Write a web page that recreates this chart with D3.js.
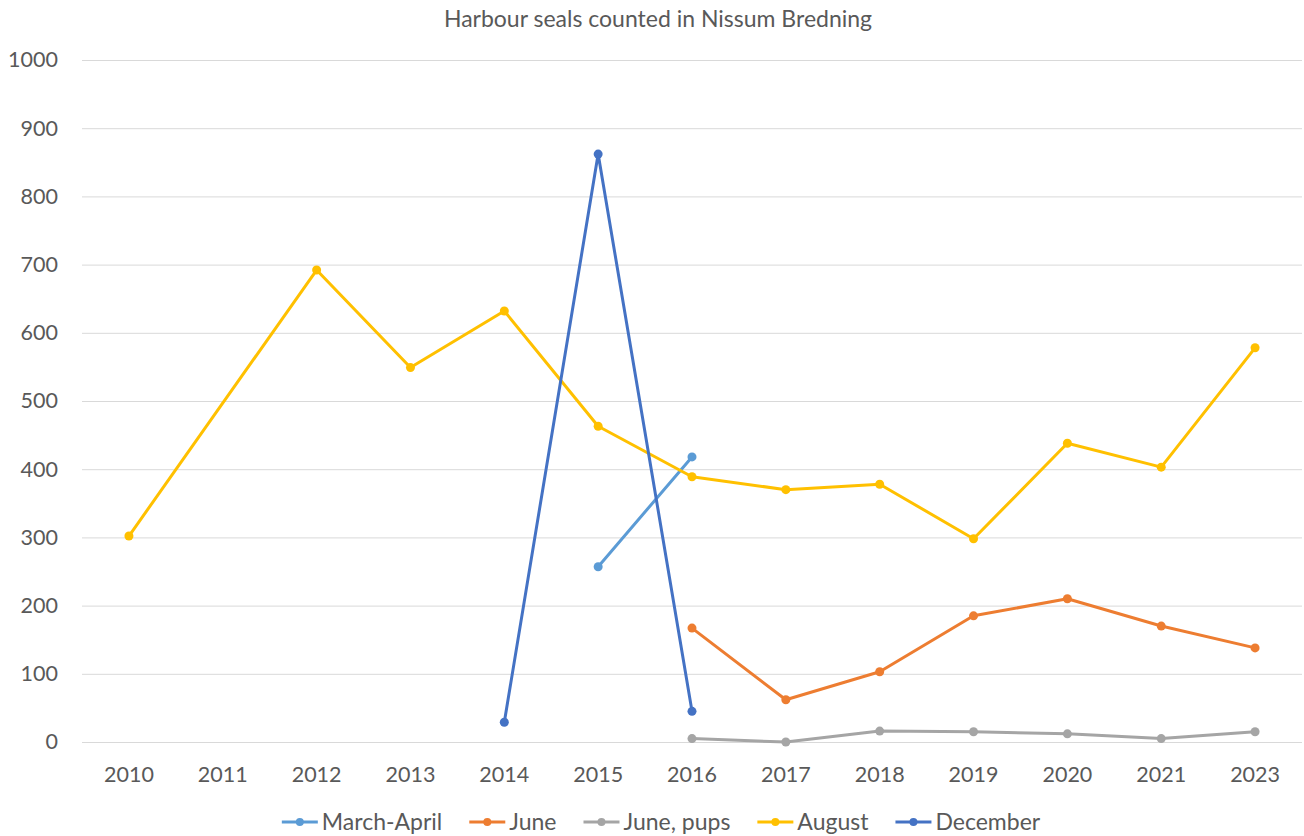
<!DOCTYPE html>
<html><head><meta charset="utf-8">
<script src="https://cdn.jsdelivr.net/npm/d3@7"></script>
<style>body{margin:0;background:#fff;} text{font-family:Lato, "Open Sans", sans-serif;}</style>
</head><body>
<svg id="c" width="1304" height="836"></svg>
<script>
const categories = ["2010","2011","2012","2013","2014","2015","2016","2017","2018","2019","2020","2021","2023"];
const marchApril = [null,null,null,null,null,257,418,null,null,null,null,null,null];
const june = [null,null,null,null,null,null,167,62,103,185,210,170,138];
const junePups = [null,null,null,null,null,null,5,0,16,15,12,5,15];
const august = [302,null,692,549,632,463,389,370,378,298,438,403,578];
const december = [null,null,null,null,29,862,45,null,null,null,null,null,null];
const yTicks = [0,100,200,300,400,500,600,700,800,900,1000];
const seriesNames = ["March-April","June","June, pups","August","December"];
const seriesColors = ["#5B9BD5","#ED7D31","#A5A5A5","#FFC000","#4472C4"];
const seriesData = [marchApril, june, junePups, august, december];

(function(){
const svg = d3.select("#c");
const mLeft = 82, mRight = 1302, mTop = 60, mBottom = 742;
const x = d3.scaleBand().domain(categories).range([mLeft, mRight]).padding(0);
const y = d3.scaleLinear().domain([0,1000]).range([mBottom, mTop]);
const cx = c => x(c) + x.bandwidth()/2;

svg.append("text").attr("x", 658).attr("y", 27).attr("text-anchor","middle")
  .attr("font-size", 23).attr("fill", "#595959").text("Harbour seals counted in Nissum Bredning");

const gy = svg.append("g").attr("transform", `translate(${mLeft},0)`)
  .call(d3.axisLeft(y).tickValues(yTicks).tickSize(-(mRight-mLeft)).tickPadding(24).tickFormat(d3.format("d")));
gy.select(".domain").remove();
gy.selectAll(".tick line").attr("stroke", "#D9D9D9").attr("stroke-width", 1);
gy.selectAll(".tick text").attr("font-size", 21.5).attr("fill", "#595959").attr("font-family","Lato, 'Open Sans', sans-serif");

const gx = svg.append("g").attr("transform", `translate(0,${mBottom})`)
  .call(d3.axisBottom(x).tickSize(0).tickPadding(25));
gx.select(".domain").remove();
gx.selectAll(".tick text").attr("font-size", 21.5).attr("fill", "#595959").attr("font-family","Lato, 'Open Sans', sans-serif");

const line = d3.line().x(d => cx(d.c)).y(d => y(d.v));
seriesData.forEach((arr, i) => {
  const pts = categories.map((c, j) => ({c, v: arr[j]})).filter(d => d.v !== null);
  svg.append("path").datum(pts).attr("d", line).attr("fill","none")
    .attr("stroke", seriesColors[i]).attr("stroke-width", 3).attr("stroke-linejoin","round").attr("stroke-linecap","round");
  svg.append("g").selectAll("circle").data(pts).join("circle")
    .attr("cx", d => cx(d.c)).attr("cy", d => y(d.v)).attr("r", 4.5).attr("fill", seriesColors[i]);
});

const lg = svg.append("g");
const fs = 23;
const widths = [];
const tmp = lg.append("text").attr("font-size", fs);
seriesNames.forEach(n => { tmp.text(n); widths.push(tmp.node().getComputedTextLength()); });
tmp.remove();
const sym = 40, gap = 27;
const totalW = d3.sum(widths) + seriesNames.length * sym + (seriesNames.length-1)*gap;
let lx = 661 - totalW/2;
const ly = 822;
seriesNames.forEach((n, i) => {
  lg.append("line").attr("x1", lx).attr("x2", lx+36).attr("y1", ly).attr("y2", ly)
    .attr("stroke", seriesColors[i]).attr("stroke-width", 3);
  lg.append("circle").attr("cx", lx+18).attr("cy", ly).attr("r", 4).attr("fill", seriesColors[i]);
  lg.append("text").attr("x", lx+sym).attr("y", ly+8).attr("font-size", fs).attr("fill","#595959").text(n);
  lx += sym + widths[i] + gap;
});
})();
</script>
</body></html>
